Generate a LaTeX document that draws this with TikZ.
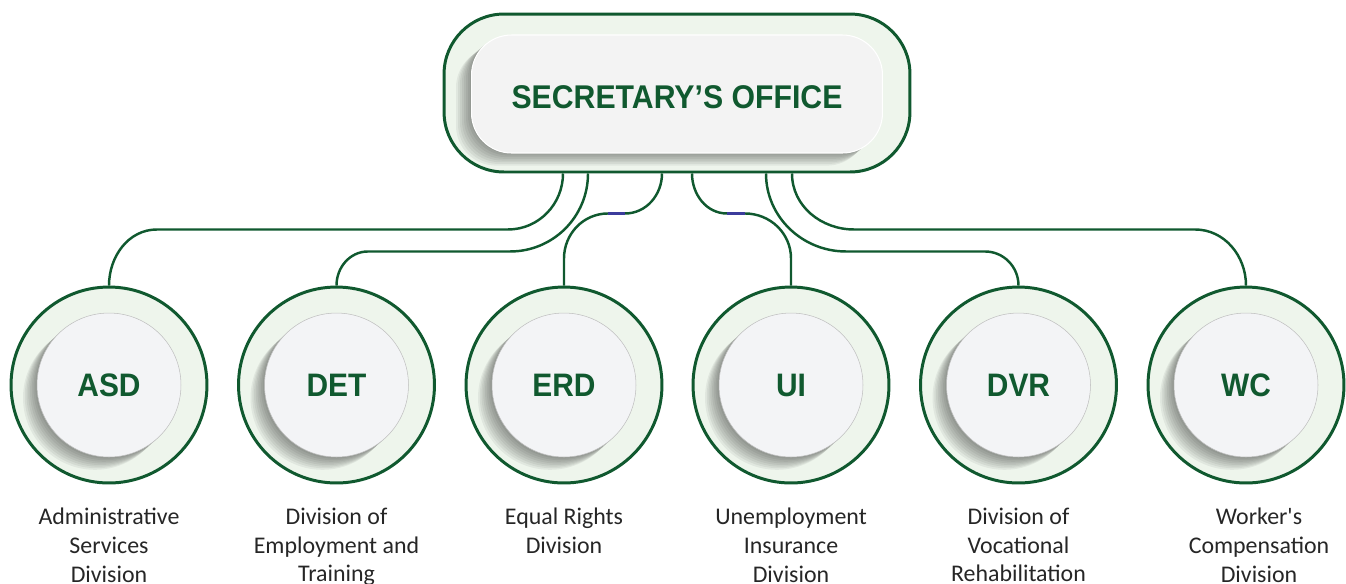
\documentclass[tikz,border=0pt]{standalone}
\usepackage{fontspec}
\usepackage{xcolor}
\usetikzlibrary{positioning}
\setmainfont{Carlito}[Ligatures=TeXOff]
\newfontfamily\headfont[FakeStretch=0.92]{Liberation Sans}

\definecolor{deepgreen}{HTML}{10592F}
\definecolor{palegreen}{HTML}{EEF5EC}
\definecolor{corewhite}{HTML}{F3F4F6}
\definecolor{officegrey}{HTML}{F3F3F3}
\definecolor{inkgrey}{HTML}{262626}
\definecolor{glitchblue}{HTML}{3C3C9C}

\tikzset{
  office/.style={draw=deepgreen,line width=1.7pt,fill=palegreen,rounded corners=1.2cm,
    minimum width=9.32cm,minimum height=3.16cm},
  officecore/.style={draw=white,line width=0.6pt,fill=officegrey,rounded corners=0.8cm,
    minimum width=8.22cm,minimum height=2.36cm,text=deepgreen,text height=0.59cm,text depth=0pt,
    font=\headfont\bfseries\fontsize{18.7}{22}\selectfont},
  unit/.style={circle,draw=deepgreen,line width=1.7pt,fill=palegreen,minimum size=3.92cm},
  unitcore/.style={circle,draw=black!25,line width=0.3pt,fill=corewhite,minimum size=2.88cm,
    text=deepgreen,font=\headfont\bfseries\fontsize{18.5}{22}\selectfont},
  shade/.style={fill=black,opacity=0.055},
  link/.style={draw=deepgreen,line width=1.4pt},
  glitch/.style={draw=glitchblue,line width=1.4pt},
  caption/.style={align=center,inner sep=0pt,text=inkgrey,
    font=\fontsize{13.6}{16.4}\selectfont}
}

\begin{document}
\begin{tikzpicture}[x=0.02cm,y=0.02cm]
    \useasboundingbox (0,0) rectangle (1346,-583);

    % top box
    \node[office] (sec) at (677,-93) {};
    \foreach \i in {1,...,8}
      \fill[shade,rounded corners=0.8cm] ([shift={(-205-2*\i,-59-1.7*\i)}]sec.center) rectangle ++(411,118);
    \node[officecore] (sec-in) at (677,-94) {SECRETARY’S OFFICE};

    % divisions
    \node[unit] (asd) at (109,-385) {};
    \node[unit] (det) at (336.5,-385) {};
    \node[unit] (erd) at (564,-385) {};
    \node[unit] (ui) at (791,-385) {};
    \node[unit] (dvr) at (1018.5,-385) {};
    \node[unit] (wc) at (1246,-385) {};

    \foreach \c in {asd,det,erd,ui,dvr,wc}
      \foreach \i in {1,...,8}
        \fill[shade] ([shift={(-1.75*\i,-1.6*\i)}]\c.center) circle (1.44cm);

    \node[unitcore] (asd-in) at (asd) {ASD};
    \node[unitcore] (det-in) at (det) {DET};
    \node[unitcore] (erd-in) at (erd) {ERD};
    \node[unitcore] (ui-in) at (ui) {UI};
    \node[unitcore] (dvr-in) at (dvr) {DVR};
    \node[unitcore] (wc-in) at (wc) {WC};

    \node[caption,below=0.46cm of asd] (asd-txt) {Administrative\\Services\\Division};
    \node[caption,below=0.46cm of det] (det-txt) {Division of\\Employment and\\Training};
    \node[caption,below=0.46cm of erd] (erd-txt) {Equal Rights\\Division};
    \node[caption,below=0.46cm of ui] (ui-txt) {Unemployment\\Insurance\\Division};
    \node[caption,below=0.46cm of dvr] (dvr-txt) {Division of\\Vocational\\Rehabilitation};
    \node[caption,below=0.46cm of wc,xshift=0.26cm] (wc-txt) {Worker's\\Compensation\\Division};

    % connectors
    \draw[link] (sec.south) ++(-114,0) to[out=-90,in=0] ++(-55,-56) -- ++(-351,0) to[out=180,in=90] (asd.north);
    \draw[link] (sec.south) ++(-89,0) to[out=-90,in=0] ++(-78,-78) -- ++(-142,0) to[out=180,in=90] (det.north);
    \draw[link] (sec.south) ++(-15,0) to[out=-90,in=0] ++(-37,-40) coordinate (erd-a)
      -- ++(-17,0) coordinate (erd-b) to[out=180,in=90] ++(-44,-45) -- (erd.north);
    \draw[link] (sec.south) ++(15,0) to[out=-90,in=180] ++(35,-40) coordinate (ui-a)
      -- ++(18,0) coordinate (ui-b) to[out=0,in=90] ++(46,-45) -- (ui.north);
    \draw[link] (sec.south) ++(89,0) to[out=-90,in=180] ++(80,-78) -- ++(139,0) to[out=0,in=90] (dvr.north);
    \draw[link] (sec.south) ++(115,0) to[out=-90,in=180] ++(62,-56) -- ++(341,0) to[out=0,in=90] (wc.north);
    \draw[glitch] (erd-a) -- (erd-b);
    \draw[glitch] (ui-a) -- (ui-b);
\end{tikzpicture}
\end{document}
